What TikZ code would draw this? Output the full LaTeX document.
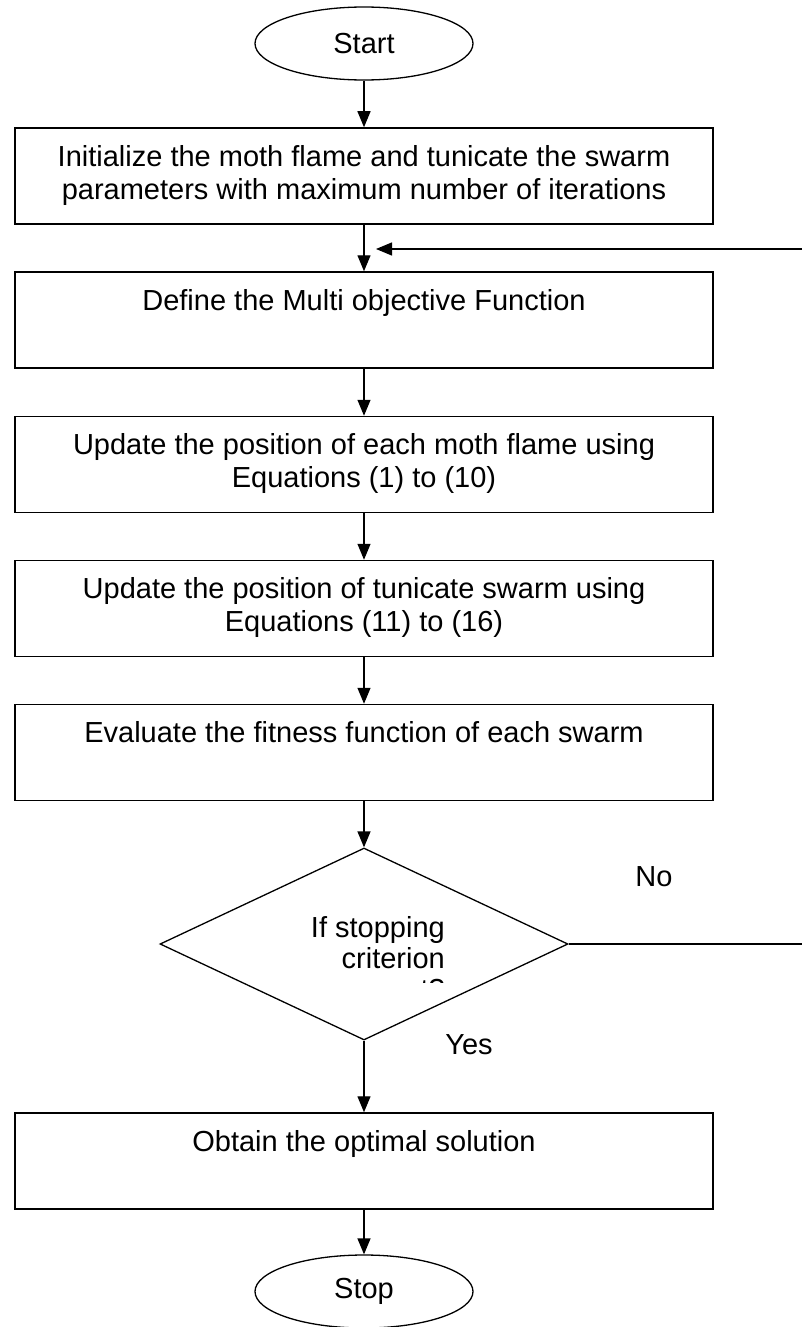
\documentclass[tikz,border=0pt]{standalone}
\usepackage{fontspec}
\setmainfont{Liberation Sans}
\usetikzlibrary{shapes.geometric,arrows.meta}
\tikzset{
  proc/.style={draw, line width=1.5pt, rectangle, minimum width=698, minimum height=96, inner sep=0, align=center,
    font=\fontsize{29}{33}\selectfont},
  term/.style={draw, line width=1.3pt, ellipse, minimum width=218, minimum height=73, inner sep=0,
    font=\fontsize{29}{33}\selectfont},
  decision/.style={draw, line width=1.3pt, diamond, aspect=2.125, minimum width=408, minimum height=192, inner sep=0},
  lbl/.style={font=\fontsize{29}{33}\selectfont, inner sep=0},
  flow/.style={line width=1.3pt, -{Triangle[length=16pt, width=13pt]}},
  plain/.style={line width=1.3pt}
}
\begin{document}
\begin{tikzpicture}[x=1pt, y=-1pt]
\clip (0,0) rectangle (802,1327);
\fill[white] (0,0) rectangle (802,1327);

\node[term] (start) at (364,43.5) {Start};
\node[proc] (init) at (364,176) {\strut Initialize the moth flame and tunicate the swarm\\\strut parameters with maximum number of iterations};
\node[proc] (define) at (364,320) {\strut Define the Multi objective Function\\\strut};
\node[proc] (moth) at (364,464.5) {\strut Update the position of each moth flame using\\\strut Equations (1) to (10)};
\node[proc] (tunicate) at (364,608.5) {\strut Update the position of tunicate swarm using\\\strut Equations (11) to (16)};
\node[proc] (eval) at (364,752.5) {\strut Evaluate the fitness function of each swarm\\\strut};
\node[decision] (dec) at (364,944) {};
\node[lbl, anchor=east, align=right, font=\fontsize{29}{31}\selectfont] (dectext) at (445,946.3) {\strut If stopping\\\strut criterion};
\begin{scope}
  \clip (380,970) rectangle (460,982);
  \node[lbl, anchor=base east] (decmore) at (445,999) {met?};
\end{scope}
\node[proc] (obtain) at (364,1161) {\strut Obtain the optimal solution\\\strut};
\node[term] (stop) at (364,1291.5) {Stop};

\node[lbl] (no) at (654,877) {No};
\node[lbl] (yes) at (469,1045) {Yes};

\coordinate (fbstart) at (802,249);
\coordinate (fbtip) at (376,249);
\coordinate (noend) at (802,944);

\draw[flow] (start) -- (init);
\draw[flow] (init) -- (define);
\draw[flow] (fbstart) -- (fbtip);
\draw[flow] (define) -- (moth);
\draw[flow] (moth) -- (tunicate);
\draw[flow] (tunicate) -- (eval);
\draw[flow] (eval) -- (dec.north);
\draw[plain] (dec.east) -- (noend);
\draw[flow] (dec.south) -- (obtain);
\draw[flow] (obtain) -- (stop);
\end{tikzpicture}
\end{document}
